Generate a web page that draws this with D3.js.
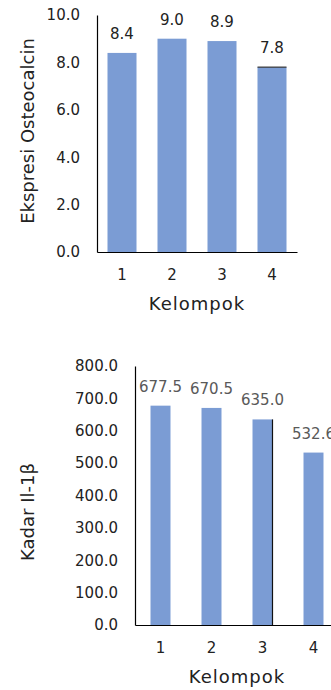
<!DOCTYPE html>
<html>
<head>
<meta charset="utf-8">
<script src="https://cdn.jsdelivr.net/npm/d3@7"></script>
<style>
  html, body { margin: 0; padding: 0; background: #fff; }
  svg { display: block; font-family: "DejaVu Sans", sans-serif; }
</style>
</head>
<body>
<svg id="chart" width="331" height="690"></svg>
<script>
// Groups shared by both panels
const groups = ["1", "2", "3", "4"];

// Panel A: osteocalcin expression per group
const osteoValues = [8.4, 9.0, 8.9, 7.8];
const osteoTicks = [0, 2, 4, 6, 8, 10];

// Panel B: IL-1β level per group
const ilValues = [677.5, 670.5, 635.0, 532.6];
const ilTicks = [0, 100, 200, 300, 400, 500, 600, 700, 800];

const barColor = "#7b9cd4";
const svg = d3.select("#chart");

function panel(cfg) {
  const g = svg.append("g");
  const x = d3.scaleBand().domain(groups)
    .range([cfg.left, cfg.right])
    .paddingInner(cfg.padInner).paddingOuter(cfg.padInner / 2);
  const y = d3.scaleLinear().domain(cfg.domain).range([cfg.bottom, cfg.top]);

  // bars
  g.selectAll("rect.bar").data(cfg.values).join("rect")
    .attr("class", "bar")
    .attr("x", (d, i) => x(groups[i]))
    .attr("width", x.bandwidth())
    .attr("y", d => y(d))
    .attr("height", d => y(0) - y(d))
    .attr("fill", barColor);

  // value labels
  g.selectAll("text.val").data(cfg.values).join("text")
    .attr("class", "val")
    .attr("x", (d, i) => x(groups[i]) + x.bandwidth() / 2)
    .attr("y", d => y(d) - 14)
    .attr("text-anchor", "middle")
    .style("font-size", cfg.valSize + "px")
    .attr("fill", cfg.valColor)
    .text(d => d.toFixed(1));

  // y axis (labels only, no tick marks)
  const yAxis = d3.axisLeft(y).tickValues(cfg.ticks)
    .tickFormat(d3.format(".1f")).tickSize(0).tickPadding(17);
  const ya = g.append("g").attr("transform", `translate(${cfg.left},0)`).call(yAxis);
  ya.attr("font-size", null).attr("font-family", null);
  ya.select(".domain").attr("stroke", "#000").attr("stroke-width", 1.2);
  ya.selectAll("text").style("font-size", "15px").attr("fill", "#222");

  // x axis
  const xAxis = d3.axisBottom(x).tickSize(0).tickPadding(17);
  const xa = g.append("g").attr("transform", `translate(0,${cfg.bottom})`).call(xAxis);
  xa.attr("font-size", null).attr("font-family", null);
  xa.select(".domain").attr("stroke", "#000").attr("stroke-width", 1.2);
  xa.selectAll("text").style("font-size", "15px").attr("fill", "#222");

  // axis titles
  g.append("text")
    .attr("x", (cfg.left + cfg.titleRight) / 2)
    .attr("y", cfg.bottom + 58)
    .attr("text-anchor", "middle")
    .style("font-size", "18px").style("letter-spacing", "1px")
    .attr("fill", "#222")
    .text("Kelompok");

  g.append("text")
    .attr("transform", `translate(34,${cfg.yTitleY}) rotate(-90)`)
    .attr("text-anchor", "middle")
    .style("font-size", "18px")
    .attr("fill", "#222")
    .text(cfg.yTitle);

  return { g, x, y };
}

const a = panel({
  values: osteoValues, ticks: osteoTicks, domain: [0, 10],
  left: 97, right: 297, top: 15, bottom: 252, padInner: 0.42,
  valSize: 15, valColor: "#222",
  titleRight: 297, yTitle: "Ekspresi Osteocalcin", yTitleY: 131
});
// dark top edge on the last osteocalcin bar
a.g.append("line")
  .attr("x1", a.x(groups[3])).attr("x2", a.x(groups[3]) + a.x.bandwidth())
  .attr("y1", a.y(osteoValues[3])).attr("y2", a.y(osteoValues[3]))
  .attr("stroke", "#333").attr("stroke-width", 1.2);

const b = panel({
  values: ilValues, ticks: ilTicks, domain: [0, 800],
  left: 135, right: 339, top: 366, bottom: 625, padInner: 0.608,
  valSize: 15, valColor: "#595959",
  titleRight: 339, yTitle: "Kadar Il-1β", yTitleY: 512
});
// dark right edge on the third IL-1β bar
b.g.append("line")
  .attr("x1", b.x(groups[2]) + b.x.bandwidth()).attr("x2", b.x(groups[2]) + b.x.bandwidth())
  .attr("y1", b.y(ilValues[2])).attr("y2", b.y(0))
  .attr("stroke", "#111").attr("stroke-width", 1.2);
</script>
</body>
</html>
